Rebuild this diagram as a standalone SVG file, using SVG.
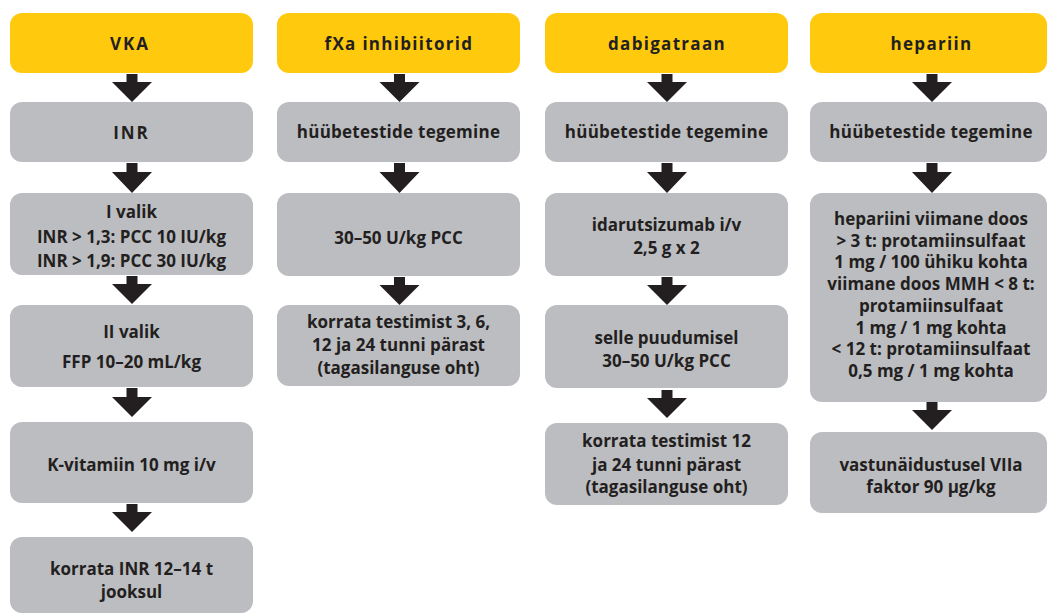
<svg xmlns="http://www.w3.org/2000/svg" width="1047" height="615" viewBox="0 0 1047 615">
<defs>
<style>
.hd{fill:#FFC90E}
.bx{fill:#BCBDC0}
.t{font-family:"Open Sans","Noto Sans","Liberation Sans",sans-serif;font-weight:700;font-size:17px;fill:#231F20;text-anchor:middle}
.h{letter-spacing:1.3px}
.b{letter-spacing:0.25px}
.ls{letter-spacing:2px}
.ar{fill:#231F20}
</style>
</defs>
<rect width="1047" height="615" fill="#FFFFFF"/>
<g id="connectors">
<polygon class="ar" points="126.5,74 137.5,74 137.5,82 152,82 132,102 112,82 126.5,82"/>
<polygon class="ar" points="126.5,163 137.5,163 137.5,172 152,172 132,193 112,172 126.5,172"/>
<polygon class="ar" points="126.5,276 137.5,276 137.5,284 152,284 132,304 112,284 126.5,284"/>
<polygon class="ar" points="126.5,388 137.5,388 137.5,397 152,397 132,417 112,397 126.5,397"/>
<polygon class="ar" points="126.5,504 137.5,504 137.5,512 152,512 132,532 112,512 126.5,512"/>
<polygon class="ar" points="394,74 405,74 405,82 419.5,82 399.5,102 379.5,82 394,82"/>
<polygon class="ar" points="394,163 405,163 405,172 419.5,172 399.5,193 379.5,172 394,172"/>
<polygon class="ar" points="394,277 405,277 405,285 419.5,285 399.5,305 379.5,285 394,285"/>
<polygon class="ar" points="661.5,74 672.5,74 672.5,82 687,82 667,102 647,82 661.5,82"/>
<polygon class="ar" points="661.5,163 672.5,163 672.5,172 687,172 667,193 647,172 661.5,172"/>
<polygon class="ar" points="661.5,277 672.5,277 672.5,285 687,285 667,305 647,285 661.5,285"/>
<polygon class="ar" points="661.5,390 672.5,390 672.5,398 687,398 667,418 647,398 661.5,398"/>
<polygon class="ar" points="926.5,74 937.5,74 937.5,82 952,82 932,102 912,82 926.5,82"/>
<polygon class="ar" points="926.5,163 937.5,163 937.5,172 952,172 932,193 912,172 926.5,172"/>
<polygon class="ar" points="926.5,402 937.5,402 937.5,410 952,410 932,430 912,410 926.5,410"/>
</g>
<g id="vka">
<rect class="hd" x="10" y="13" width="243" height="60" rx="12"/>
<text class="t ls" x="130" y="50">VKA</text>
</g>
<g id="vka-inr">
<rect class="bx" x="10" y="102" width="243" height="60" rx="12"/>
<text class="t ls" x="131.5" y="139">INR</text>
</g>
<g id="vka-1">
<rect class="bx" x="10" y="193" width="243" height="82" rx="12"/>
<text class="t" x="131.5" y="218">I valik</text>
<text class="t" x="131.5" y="242.5">INR &gt; 1,3: PCC 10 IU/kg</text>
<text class="t" x="131.5" y="266.5">INR &gt; 1,9: PCC 30 IU/kg</text>
</g>
<g id="vka-2">
<rect class="bx" x="10" y="305" width="243" height="82" rx="12"/>
<text class="t" x="131.5" y="338">II valik</text>
<text class="t" x="131.5" y="368">FFP 10–20 mL/kg</text>
</g>
<g id="vka-3">
<rect class="bx" x="10" y="422" width="243" height="81" rx="12"/>
<text class="t" x="131.5" y="470.5">K-vitamiin 10 mg i/v</text>
</g>
<g id="vka-4">
<rect class="bx" x="10" y="537" width="243" height="76" rx="12"/>
<text class="t" x="131.5" y="575">korrata INR 12–14 t</text>
<text class="t" x="131.5" y="598">jooksul</text>
</g>
<g id="fxa">
<rect class="hd" x="277" y="13" width="243" height="60" rx="12"/>
<text class="t h" x="399" y="50">fXa inhibiitorid</text>
</g>
<g id="fxa-1">
<rect class="bx" x="277" y="102" width="243" height="60" rx="12"/>
<text class="t b" x="398.5" y="138">hüübetestide tegemine</text>
</g>
<g id="fxa-2">
<rect class="bx" x="277" y="193" width="243" height="83" rx="12"/>
<text class="t" x="398.5" y="244">30–50 U/kg PCC</text>
</g>
<g id="fxa-3">
<rect class="bx" x="277" y="305" width="243" height="81" rx="12"/>
<text class="t" x="398.5" y="328">korrata testimist 3, 6,</text>
<text class="t" x="398.5" y="351">12 ja 24 tunni pärast</text>
<text class="t" x="398.5" y="374">(tagasilanguse oht)</text>
</g>
<g id="dabi">
<rect class="hd" x="545" y="13" width="243" height="60" rx="12"/>
<text class="t h" x="667" y="50">dabigatraan</text>
</g>
<g id="dabi-1">
<rect class="bx" x="545" y="102" width="243" height="60" rx="12"/>
<text class="t b" x="666.5" y="138">hüübetestide tegemine</text>
</g>
<g id="dabi-2">
<rect class="bx" x="545" y="193" width="243" height="83" rx="12"/>
<text class="t" x="666.5" y="230.5">idarutsizumab i/v</text>
<text class="t" x="666.5" y="254">2,5 g x 2</text>
</g>
<g id="dabi-3">
<rect class="bx" x="545" y="305" width="243" height="83" rx="12"/>
<text class="t" x="666.5" y="344">selle puudumisel</text>
<text class="t" x="666.5" y="367">30–50 U/kg PCC</text>
</g>
<g id="dabi-4">
<rect class="bx" x="545" y="423" width="243" height="82" rx="12"/>
<text class="t" x="666.5" y="447">korrata testimist 12</text>
<text class="t" x="666.5" y="470.5">ja 24 tunni pärast</text>
<text class="t" x="666.5" y="493">(tagasilanguse oht)</text>
</g>
<g id="hep">
<rect class="hd" x="810" y="13" width="237" height="60" rx="12"/>
<text class="t h" x="931.5" y="50">hepariin</text>
</g>
<g id="hep-1">
<rect class="bx" x="810" y="102" width="237" height="60" rx="12"/>
<text class="t b" x="931" y="138">hüübetestide tegemine</text>
</g>
<g id="hep-2">
<rect class="bx" x="810" y="193" width="237" height="209" rx="12"/>
<text class="t" x="931" y="225">hepariini viimane doos</text>
<text class="t" x="931" y="246.7">&gt; 3 t: protamiinsulfaat</text>
<text class="t" x="931" y="268.4">1 mg / 100 ühiku kohta</text>
<text class="t" x="931" y="290">viimane doos MMH &lt; 8 t:</text>
<text class="t" x="931" y="311.8">protamiinsulfaat</text>
<text class="t" x="931" y="333.5">1 mg / 1 mg kohta</text>
<text class="t" x="931" y="355">&lt; 12 t: protamiinsulfaat</text>
<text class="t" x="931" y="377">0,5 mg / 1 mg kohta</text>
</g>
<g id="hep-3">
<rect class="bx" x="810" y="432" width="237" height="81" rx="12"/>
<text class="t" x="931" y="471">vastunäidustusel VIIa</text>
<text class="t" x="931" y="493">faktor 90 µg/kg</text>
</g>
</svg>
